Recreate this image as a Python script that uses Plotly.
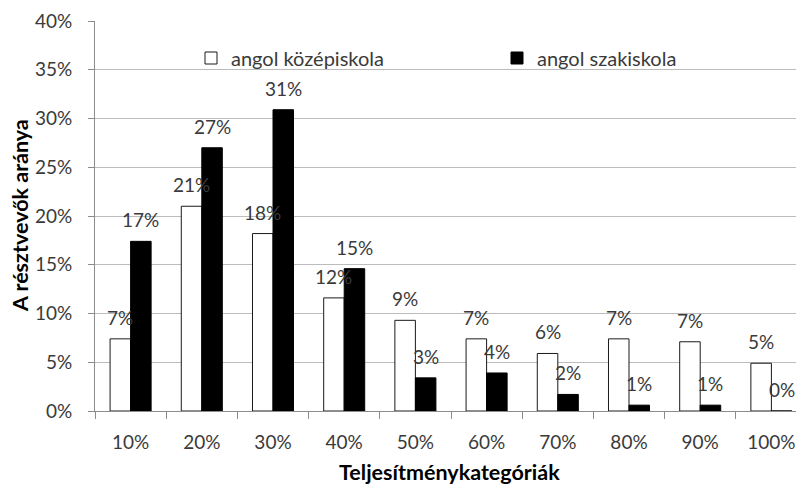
import plotly.graph_objects as go

categories = ["10%", "20%", "30%", "40%", "50%", "60%", "70%", "80%", "90%", "100%"]
kozepiskola = [7.4, 21.0, 18.2, 11.6, 9.3, 7.4, 5.9, 7.4, 7.1, 4.9]
szakiskola = [17.4, 27.0, 30.9, 14.6, 3.4, 3.9, 1.7, 0.6, 0.6, 0.0]
series_names = ["angol középiskola", "angol szakiskola"]
y_title = "A résztvevők aránya"
x_title = "Teljesítménykategóriák"

FONT = "Lato"
TXT = "#3a3a3a"
W, H = 796, 484
ML, MR, MT, MB = 95, 0, 21, 73
plot_w = W - ML - MR
plot_h = H - MT - MB
cat_px = 71.2
x_span = plot_w / cat_px
bargap = 0.424
bar_px = cat_px * (1 - bargap) / 2

k = [v / 100 for v in kozepiskola]
s = [v / 100 for v in szakiskola]

fig = go.Figure()
fig.add_trace(go.Bar(x=categories, y=k, name=series_names[0], legend="legend", showlegend=True,
                     marker=dict(color="white", line=dict(color="#1a1a1a", width=1))))
fig.add_trace(go.Bar(x=categories, y=s, name=series_names[1], legend="legend2", showlegend=True,
                     marker=dict(color="black", line=dict(color="black", width=1))))

ann = []
for vals, sign in ((k, -1), (s, 1)):
    for c, v in zip(categories, vals):
        ann.append(dict(x=c, y=v, xref="x", yref="y", text=f"{round(v*100):.0f}%",
                        showarrow=False, xanchor="center", yanchor="bottom",
                        xshift=sign * bar_px / 2, yshift=8,
                        font=dict(family=FONT, size=19, color=TXT)))

ann.append(dict(xref="paper", yref="paper", x=(20 - ML) / plot_w, y=0.5,
                text=f"<b>{y_title}</b>", textangle=-90, showarrow=False,
                xanchor="center", yanchor="middle",
                font=dict(family=FONT, size=21.5, color="black")))
ann.append(dict(xref="paper", yref="paper", x=(449 - ML) / plot_w, y=(411 - 472) / plot_h,
                text=f"<b>{x_title}</b>", showarrow=False,
                xanchor="center", yanchor="middle",
                font=dict(family=FONT, size=21.5, color="black")))

leg_common = dict(orientation="h", yanchor="middle", xanchor="left", visible=True,
                  font=dict(family=FONT, size=20, color=TXT), bgcolor="rgba(0,0,0,0)")
fig.update_layout(
    width=W, height=H,
    margin=dict(l=ML, r=MR, t=MT, b=MB),
    paper_bgcolor="white", plot_bgcolor="white",
    showlegend=True,
    barmode="group", bargap=bargap, bargroupgap=0,
    font=dict(family=FONT, size=19, color=TXT),
    annotations=ann,
    legend=dict(x=(191 - ML) / plot_w, y=(411 - 58) / plot_h, **leg_common),
    legend2=dict(x=(497 - ML) / plot_w, y=(411 - 58) / plot_h, **leg_common),
    xaxis=dict(type="category", range=[-0.5, -0.5 + x_span], showgrid=False,
               showline=True, linecolor="#8c8c8c", linewidth=1,
               ticks="outside", tickson="boundaries", ticklen=7, tickcolor="#8c8c8c",
               ticklabelstandoff=14, tickfont=dict(family=FONT, size=19, color=TXT)),
    yaxis=dict(range=[0, 0.40], dtick=0.05, tickformat=".0%", showgrid=True,
               gridcolor="#bcbcbc", gridwidth=1, zeroline=False,
               showline=True, linecolor="#8c8c8c", linewidth=1,
               ticks="outside", ticklen=6, tickcolor="#8c8c8c",
               ticklabelstandoff=12, tickfont=dict(family=FONT, size=19, color=TXT)),
)

fig.write_html("out.html", config={"displayModeBar": False},
               post_script="document.body.style.margin='0';document.body.style.overflow='hidden';")
